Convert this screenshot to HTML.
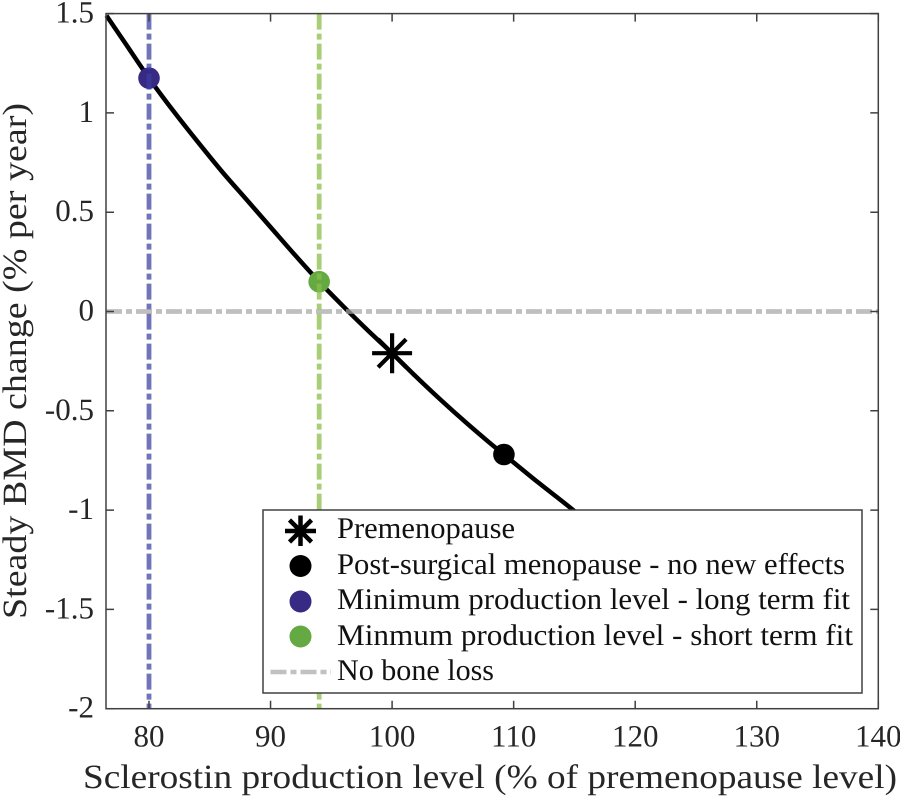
<!DOCTYPE html>
<html>
<head>
<meta charset="utf-8">
<title>Steady BMD change vs sclerostin production</title>
<style>
html,body{margin:0;padding:0;background:#fff;}
svg{display:block;}
text{font-family:"Liberation Serif","DejaVu Serif",serif;fill:#262626;text-rendering:geometricPrecision;}
.leg{font-size:30px;fill:#111;}
</style>
</head>
<body>
<svg id="chart" xmlns="http://www.w3.org/2000/svg" width="900" height="797" viewBox="0 0 900 797">
  <rect x="106" y="13.5" width="772" height="695" fill="#fff"/>
  <g id="marks"></g>
  <g id="axes"></g>
  <text x="83" y="788" font-size="34" textLength="814" lengthAdjust="spacingAndGlyphs">Sclerostin production level (% of premenopause level)</text>
  <text transform="translate(26,619) rotate(-90)" font-size="34" textLength="516" lengthAdjust="spacingAndGlyphs">Steady BMD change (% per year)</text>
  <g id="legend">
    <rect x="263" y="510" width="599" height="183" fill="#fff" stroke="#404040" stroke-width="1.5"/>
    <g>
      <g stroke="#000" stroke-width="4.5" fill="none">
        <path d="M300.5 515.5V546M285 531H316M289.5 520L311.5 542M311.5 520L289.5 542"/>
      </g>
      <text class="leg" x="337" y="538" textLength="178" lengthAdjust="spacingAndGlyphs">Premenopause</text>
    </g>
    <g>
      <circle cx="300.5" cy="566" r="11" fill="#000"/>
      <text class="leg" x="337" y="574" textLength="508" lengthAdjust="spacingAndGlyphs">Post-surgical menopause - no new effects</text>
    </g>
    <g>
      <circle cx="300.5" cy="601.5" r="11" fill="#372a85"/>
      <text class="leg" x="337" y="609" textLength="513" lengthAdjust="spacingAndGlyphs">Minimum production level - long term fit</text>
    </g>
    <g>
      <circle cx="300.5" cy="636.5" r="11" fill="#65a942"/>
      <text class="leg" x="337" y="645" textLength="516" lengthAdjust="spacingAndGlyphs">Minmum production level - short term fit</text>
    </g>
    <g>
      <line x1="270.5" y1="672" x2="331" y2="672" stroke="#a6a6a6" stroke-opacity="0.7" stroke-width="4.5" stroke-dasharray="16 4 6 4"/>
      <text class="leg" x="337" y="680" textLength="157" lengthAdjust="spacingAndGlyphs">No bone loss</text>
    </g>
  </g>
</svg>
<script>
// Chart data
var xTicks = [80, 90, 100, 110, 120, 130, 140];
var xTickLabels = ['80', '90', '100', '110', '120', '130', '140'];
var yTicks = [1.5, 1, 0.5, 0, -0.5, -1, -1.5, -2];
var yTickLabels = ['1.5', '1', '0.5', '0', '-0.5', '-1', '-1.5', '-2'];
var curveX = [76.5, 78, 80, 82, 84, 86, 88, 90, 92, 94, 96, 98, 100, 102, 104, 106, 108, 109.2, 112, 114.8, 118, 122, 126, 130];
var curveY = [1.49, 1.355, 1.175, 1.01, 0.855, 0.705, 0.565, 0.425, 0.285, 0.15, 0.025, -0.095, -0.21, -0.33, -0.445, -0.555, -0.66, -0.72, -0.86, -0.995, -1.16, -1.34, -1.51, -1.67];
var premenopause = [100, -0.21];
var postSurgical = [109.2, -0.72];
var longTerm = [80, 1.175];
var shortTerm = [94, 0.15];
var noBoneLoss = [0];

// Axis functions
function sx(v) { return 149 + (v - 80) * 12.155; }
function sy(v) { return 311.5 - v * 198.6; }

var NS = 'http://www.w3.org/2000/svg';
var marks = document.getElementById('marks');
var axes = document.getElementById('axes');
var xMin = (106 - 149) / 12.155 + 80;
var xMax = 140;
var yMin = -2;
var yMax = 1.5;

// Smooth path through the curve readings (Catmull-Rom to Bezier)
function smoothPath(xs, ys) {
  var p = xs.map(function (x, i) { return [sx(x), sy(ys[i])]; });
  var d = 'M' + p[0][0].toFixed(2) + ' ' + p[0][1].toFixed(2);
  for (var i = 0; i < p.length - 1; i++) {
    var a = p[Math.max(i - 1, 0)];
    var b = p[i];
    var c = p[i + 1];
    var e = p[Math.min(i + 2, p.length - 1)];
    d += 'C' + (b[0] + (c[0] - a[0]) / 6).toFixed(2) + ' ' + (b[1] + (c[1] - a[1]) / 6).toFixed(2) +
      ' ' + (c[0] - (e[0] - b[0]) / 6).toFixed(2) + ' ' + (c[1] - (e[1] - b[1]) / 6).toFixed(2) +
      ' ' + c[0].toFixed(2) + ' ' + c[1].toFixed(2);
  }
  return d;
}

var curve = document.createElementNS(NS, 'path');


curve.setAttribute('d', smoothPath(curveX, curveY));
curve.setAttribute('fill', 'none');
curve.setAttribute('stroke', '#000');
curve.setAttribute('stroke-width', '4.5');
marks.appendChild(curve);

var dotBlack = document.createElementNS(NS, 'circle');


dotBlack.setAttribute('cx', sx(postSurgical[0]));
dotBlack.setAttribute('cy', sy(postSurgical[1]));
dotBlack.setAttribute('r', '10.8');
dotBlack.setAttribute('fill', '#000');
marks.appendChild(dotBlack);

var dotBlue = document.createElementNS(NS, 'circle');


dotBlue.setAttribute('cx', sx(longTerm[0]));
dotBlue.setAttribute('cy', sy(longTerm[1]));
dotBlue.setAttribute('r', '10.8');
dotBlue.setAttribute('fill', '#372a85');
marks.appendChild(dotBlue);

var dotGreen = document.createElementNS(NS, 'circle');


dotGreen.setAttribute('cx', sx(shortTerm[0]));
dotGreen.setAttribute('cy', sy(shortTerm[1]));
dotGreen.setAttribute('r', '10.8');
dotGreen.setAttribute('fill', '#65a942');
marks.appendChild(dotGreen);

var star = document.createElementNS(NS, 'path');


var px = sx(premenopause[0]);
var py = sy(premenopause[1]);
star.setAttribute('d', 'M' + px + ' ' + (py - 20) + 'V' + (py + 20) +
  'M' + (px - 20) + ' ' + py + 'H' + (px + 20) +
  'M' + (px - 14) + ' ' + (py - 14) + 'L' + (px + 14) + ' ' + (py + 14) +
  'M' + (px + 14) + ' ' + (py - 14) + 'L' + (px - 14) + ' ' + (py + 14));
star.setAttribute('stroke', '#000');
star.setAttribute('stroke-width', '4.2');
star.setAttribute('fill', 'none');
marks.appendChild(star);

var vBlue = document.createElementNS(NS, 'line');


vBlue.setAttribute('x1', sx(longTerm[0]));
vBlue.setAttribute('x2', sx(longTerm[0]));
vBlue.setAttribute('y1', sy(yMax));
vBlue.setAttribute('y2', sy(yMin));
vBlue.setAttribute('stroke', '#3a3f9e');
vBlue.setAttribute('stroke-opacity', '0.72');
vBlue.setAttribute('stroke-width', '4.8');
vBlue.setAttribute('stroke-dasharray', '16 4 6 4');
marks.appendChild(vBlue);

var vGreen = document.createElementNS(NS, 'line');


vGreen.setAttribute('x1', sx(shortTerm[0]));
vGreen.setAttribute('x2', sx(shortTerm[0]));
vGreen.setAttribute('y1', sy(yMax));
vGreen.setAttribute('y2', sy(yMin));
vGreen.setAttribute('stroke', '#8cbd4a');
vGreen.setAttribute('stroke-opacity', '0.75');
vGreen.setAttribute('stroke-width', '4.8');
vGreen.setAttribute('stroke-dasharray', '16 4 6 4');
marks.appendChild(vGreen);

var hGray = document.createElementNS(NS, 'line');


hGray.setAttribute('x1', sx(xMin));
hGray.setAttribute('x2', sx(xMax));
hGray.setAttribute('y1', sy(noBoneLoss[0]));
hGray.setAttribute('y2', sy(noBoneLoss[0]));
hGray.setAttribute('stroke', '#a6a6a6');
hGray.setAttribute('stroke-opacity', '0.72');
hGray.setAttribute('stroke-width', '4.8');
hGray.setAttribute('stroke-dasharray', '16 4 6 4');
marks.appendChild(hGray);

var box = document.createElementNS(NS, 'rect');


box.setAttribute('x', sx(xMin));
box.setAttribute('y', sy(yMax));
box.setAttribute('width', sx(xMax) - sx(xMin));
box.setAttribute('height', sy(yMin) - sy(yMax));
box.setAttribute('fill', 'none');
box.setAttribute('stroke', '#404040');
box.setAttribute('stroke-width', '1.5');
axes.appendChild(box);

xTicks.forEach(function (v, i) {
  var t = document.createElementNS(NS, 'path');
  
  
  t.setAttribute('d', 'M' + sx(v) + ' ' + sy(yMin) + 'v-8M' + sx(v) + ' ' + sy(yMax) + 'v8');
  t.setAttribute('stroke', '#404040');
  t.setAttribute('stroke-width', '1.5');
  axes.appendChild(t);
  var l = document.createElementNS(NS, 'text');
  
  
  l.setAttribute('x', sx(v));
  l.setAttribute('y', 746.5);
  l.setAttribute('font-size', '31');
  l.setAttribute('text-anchor', 'middle');
  l.textContent = xTickLabels[i];
  axes.appendChild(l);
});

yTicks.forEach(function (v, i) {
  var t = document.createElementNS(NS, 'path');
  
  
  t.setAttribute('d', 'M' + sx(xMin) + ' ' + sy(v) + 'h8M' + sx(xMax) + ' ' + sy(v) + 'h-8');
  t.setAttribute('stroke', '#404040');
  t.setAttribute('stroke-width', '1.5');
  axes.appendChild(t);
  var l = document.createElementNS(NS, 'text');
  
  
  l.setAttribute('x', 94);
  l.setAttribute('y', sy(v) + 9);
  l.setAttribute('font-size', '31');
  l.setAttribute('text-anchor', 'end');
  l.textContent = yTickLabels[i];
  axes.appendChild(l);
});
</script>
</body>
</html>
